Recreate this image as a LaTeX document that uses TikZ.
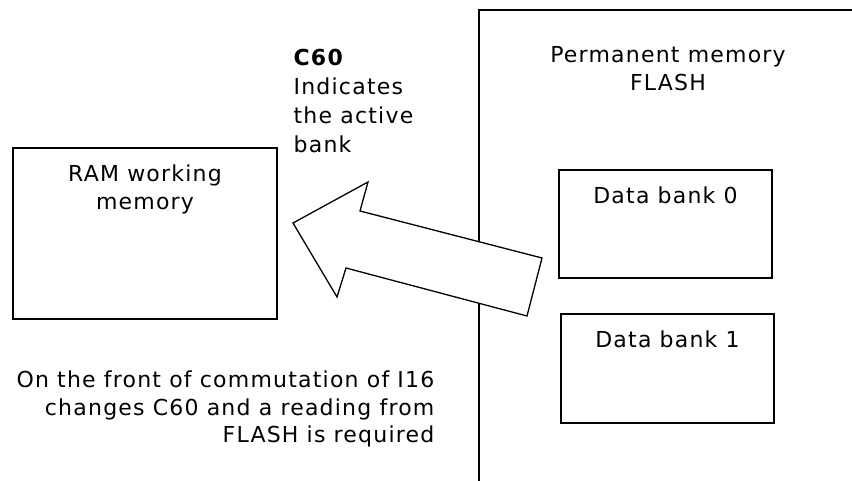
\documentclass[tikz,border=0pt]{standalone}
\usepackage{fontspec}
\setmainfont[LetterSpace=5.5]{DejaVu Sans}
\usetikzlibrary{positioning}

\tikzset{
  membox/.style={draw,line width=1.3pt,inner sep=0pt},
  lbl/.style={inner sep=0pt,align=center,font=\fontsize{22}{28}\selectfont},
}

\begin{document}
\begin{tikzpicture}[x=1pt,y=-1pt,line width=1.3pt]
  \useasboundingbox (0,0) rectangle (852,481);
  % flash area (open frame)
  \draw (479,481) -- (479,10) -- (852,10);
  \node[lbl,anchor=north] (flashtxt) at (668,46) {Permanent memory\\FLASH};

  \node[membox,minimum width=264pt,minimum height=171pt] (ram) at (145,233.5) {};
  \node[lbl,below=17pt of ram.north] (ramtxt) {RAM working\\memory};

  \node[membox,minimum width=213pt,minimum height=108pt] (bank0) at (665.5,224) {};
  \node[lbl,below=17pt of bank0.north] (bank0txt) {Data bank 0};
  \node[membox,minimum width=213pt,minimum height=109pt] (bank1) at (667.5,368.5) {};
  \node[lbl,below=17pt of bank1.north] (bank1txt) {Data bank 1};

  % block arrow, flash -> ram
  \draw[fill=white] (293,223) -- (368,182) -- (360,211) -- (542,258) -- (527,316) -- (346,268) -- (337,297) -- cycle;

  \node[lbl,anchor=north west,align=left,font=\fontsize{22}{29}\selectfont] (c60) at (293,48.5) {\textbf{C60}\\Indicates\\the active\\bank};
  \node[lbl,anchor=north east,align=right,font=\fontsize{22}{27.5}\selectfont] (note) at (435,370.5) {On the front of commutation of I16\\changes C60 and a reading from\\FLASH is required};
\end{tikzpicture}
\end{document}
